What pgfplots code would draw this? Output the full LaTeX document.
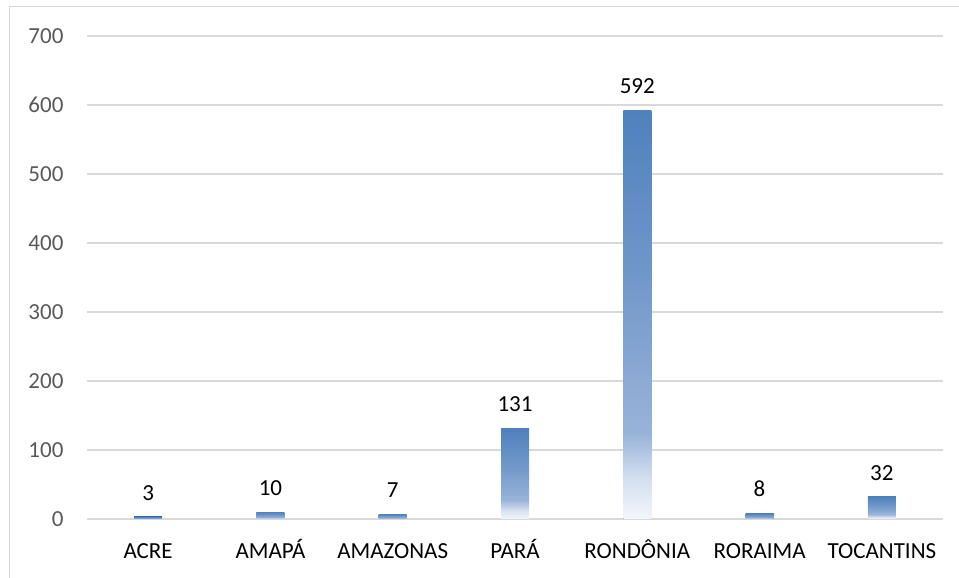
\documentclass[border=0pt]{standalone}
\usepackage{pgfplots}
\pgfplotsset{compat=1.18}
\usepackage{fontspec}
\setmainfont{Carlito}
\definecolor{barA}{HTML}{4F81BD}
\definecolor{barB}{HTML}{7097C9}
\definecolor{barC}{HTML}{98B3D9}
\definecolor{barD}{HTML}{D3DFEF}
\definecolor{barE}{HTML}{F3F6FB}
\definecolor{gridc}{HTML}{D9D9D9}
\definecolor{ticklab}{HTML}{595959}
\pgfdeclareverticalshading{barfade}{100bp}{color(0bp)=(barE); color(25bp)=(barE); color(30bp)=(barD); color(35.5bp)=(barC); color(55bp)=(barB); color(75bp)=(barA); color(100bp)=(barA)}
\begin{document}
\begin{tikzpicture}
\useasboundingbox (0pt,0pt) rectangle (959pt,578pt);
\draw[gridc,line width=1.3pt] (9.5pt,0pt) -- (9.5pt,571.5pt) -- (959pt,571.5pt);
\begin{axis}[
  at={(87pt,59pt)}, anchor=south west,
  width=856pt, height=483pt, scale only axis,
  xmin=-0.5, xmax=6.5, ymin=0, ymax=700,
  ytick={0,100,...,700},
  xtick={0,1,2,3,4,5,6},
  xticklabels={ACRE,AMAPÁ,AMAZONAS,PARÁ,RONDÔNIA,RORAIMA,TOCANTINS},
  axis line style={draw=none},
  major tick length=0pt,
  ymajorgrids, grid style={gridc,line width=1.3pt},
  yticklabel style={text=ticklab, font=\fontsize{23}{27}\selectfont, xshift=-20pt},
  xticklabel style={text=black, font=\fontsize{23}{27}\selectfont, anchor=base, yshift=-40pt},
  /pgf/number format/assume math mode=true,
  ybar, bar width=28pt, bar shift=0pt,
  nodes near coords,
  nodes near coords style={font=\fontsize{23}{27}\selectfont, text=black, yshift=13pt},
  every axis plot/.append style={draw=none, shading=barfade},
  clip=false,
]
\addplot coordinates {(0,3)};
\addplot coordinates {(1,10)};
\addplot coordinates {(2,7)};
\addplot coordinates {(3,131)};
\addplot coordinates {(4,592)};
\addplot coordinates {(5,8)};
\addplot coordinates {(6,32)};
\end{axis}
\end{tikzpicture}
\end{document}
